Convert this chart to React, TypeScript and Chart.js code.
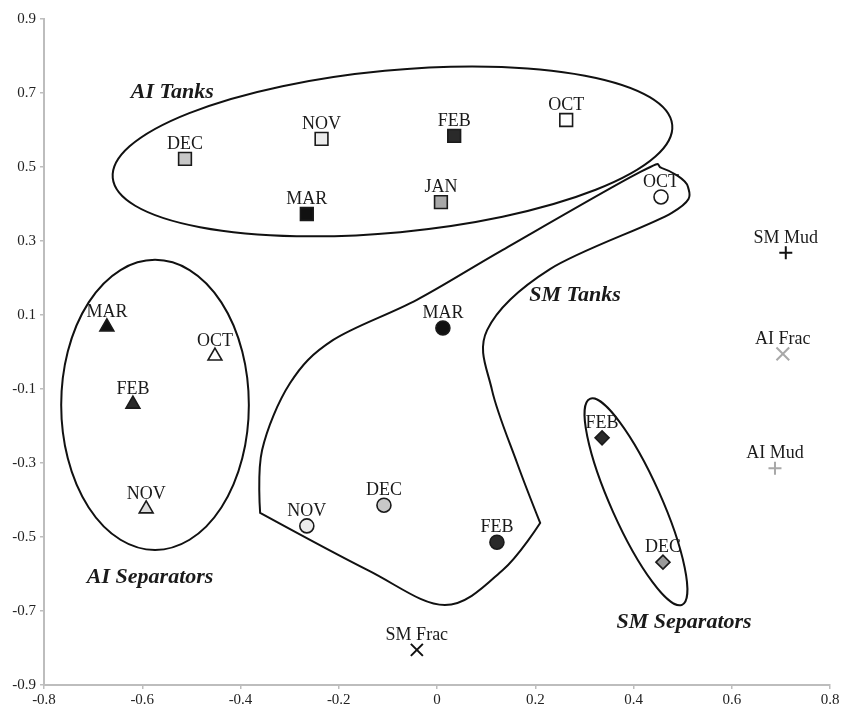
import React, { useEffect, useRef } from 'react';
import { Chart, registerables } from 'chart.js';

Chart.register(...registerables);

const FONT = '"Liberation Serif", "Times New Roman", "DejaVu Serif", serif';

const X_TICKS = [-0.8, -0.6, -0.4, -0.2, 0, 0.2, 0.4, 0.6, 0.8];
const Y_TICKS = [-0.9, -0.7, -0.5, -0.3, -0.1, 0.1, 0.3, 0.5, 0.7, 0.9];

// AI Tanks (squares)
const AI_TANKS_LABELS = ['DEC', 'NOV', 'FEB', 'OCT', 'MAR', 'JAN'];
const AI_TANKS_X = [-0.513, -0.235, 0.035, 0.263, -0.265, 0.008];
const AI_TANKS_Y = [0.522, 0.576, 0.584, 0.627, 0.373, 0.405];
const AI_TANKS_FILL = ['#c8c8c8', '#ececec', '#2a2a2a', '#ffffff', '#111111', '#a8a8a8'];

// SM Tanks (circles)
const SM_TANKS_LABELS = ['OCT', 'MAR', 'NOV', 'DEC', 'FEB'];
const SM_TANKS_X = [0.456, 0.012, -0.265, -0.108, 0.122];
const SM_TANKS_Y = [0.419, 0.065, -0.47, -0.414, -0.514];
const SM_TANKS_FILL = ['#ffffff', '#111111', '#ececec', '#c8c8c8', '#2a2a2a'];

// AI Separators (triangles)
const AI_SEP_LABELS = ['MAR', 'OCT', 'FEB', 'NOV'];
const AI_SEP_X = [-0.672, -0.452, -0.619, -0.592];
const AI_SEP_Y = [0.068, -0.011, -0.141, -0.424];
const AI_SEP_FILL = ['#111111', '#ffffff', '#2a2a2a', '#dcdcdc'];

// SM Separators (diamonds)
const SM_SEP_LABELS = ['FEB', 'DEC'];
const SM_SEP_X = [0.336, 0.46];
const SM_SEP_Y = [-0.232, -0.568];
const SM_SEP_FILL = ['#2a2a2a', '#9a9a9a'];

// Other samples
const SM_MUD = { label: 'SM Mud', x: 0.71, y: 0.268 };
const AI_FRAC = { label: 'AI Frac', x: 0.704, y: -0.005 };
const AI_MUD = { label: 'AI Mud', x: 0.688, y: -0.314 };
const SM_FRAC = { label: 'SM Frac', x: -0.041, y: -0.805 };

// Group annotations
const GROUP_NAMES = ['AI Tanks', 'SM Tanks', 'AI Separators', 'SM Separators'];
const GROUP_X = [-0.539, 0.281, -0.584, 0.503];
const GROUP_Y = [0.703, 0.154, -0.608, -0.73];

// Enclosing ellipses (centre, radii in axis units, rotation in degrees)
const ELLIPSE_CX = [-0.0906, -0.574, 0.405];
const ELLIPSE_CY = [0.542, -0.143, -0.405];
const ELLIPSE_RX = [0.572, 0.191, 0.2296];
const ELLIPSE_RY = [0.219, 0.392, 0.0676];
const ELLIPSE_ROT = [-5.4, 0, 65.9];

// SM Tanks outline (closed curve)
const OUTLINE_X = [0.458, 0.511, 0.478, 0.23, 0.102, 0.112, 0.163, 0.21, 0.134, 0.016, -0.142, -0.36, -0.356, -0.299, -0.212, -0.041, 0.134, 0.413];
const OUTLINE_Y = [0.497, 0.446, 0.376, 0.224, 0.059, -0.103, -0.3, -0.462, -0.589, -0.684, -0.589, -0.435, -0.265, -0.084, 0.032, 0.141, 0.276, 0.486];
const OUTLINE_CORNERS = [7, 11];

const zip = (xs: number[], ys: number[]) => xs.map((x, i) => ({ x, y: ys[i] }));

const shapesPlugin = {
  id: 'shapes',
  beforeDatasetsDraw(chart: any) {
    const { ctx, scales } = chart;
    const xs = scales.x;
    const ys = scales.y;
    const sx = Math.abs(xs.getPixelForValue(1) - xs.getPixelForValue(0));
    const sy = Math.abs(ys.getPixelForValue(1) - ys.getPixelForValue(0));
    ctx.save();
    ctx.strokeStyle = '#111';
    ctx.lineWidth = 2;
    for (let i = 0; i < ELLIPSE_CX.length; i++) {
      ctx.beginPath();
      ctx.ellipse(
        xs.getPixelForValue(ELLIPSE_CX[i]),
        ys.getPixelForValue(ELLIPSE_CY[i]),
        ELLIPSE_RX[i] * sx,
        ELLIPSE_RY[i] * sy,
        (ELLIPSE_ROT[i] * Math.PI) / 180,
        0,
        Math.PI * 2
      );
      ctx.stroke();
    }
    const pts = OUTLINE_X.map((x, i) => ({ x: xs.getPixelForValue(x), y: ys.getPixelForValue(OUTLINE_Y[i]) }));
    const n = pts.length;
    const t = 1 / 6;
    ctx.beginPath();
    ctx.moveTo(pts[0].x, pts[0].y);
    for (let i = 0; i < n; i++) {
      const p0 = pts[(i - 1 + n) % n];
      const p1 = pts[i];
      const p2 = pts[(i + 1) % n];
      const p3 = pts[(i + 2) % n];
      const c1 = OUTLINE_CORNERS.includes(i) ? p1 : { x: p1.x + (p2.x - p0.x) * t, y: p1.y + (p2.y - p0.y) * t };
      const c2 = OUTLINE_CORNERS.includes((i + 1) % n) ? p2 : { x: p2.x - (p3.x - p1.x) * t, y: p2.y - (p3.y - p1.y) * t };
      ctx.bezierCurveTo(c1.x, c1.y, c2.x, c2.y, p2.x, p2.y);
    }
    ctx.closePath();
    ctx.stroke();
    ctx.restore();
  },
  afterDatasetsDraw(chart: any) {
    const { ctx, scales } = chart;
    ctx.save();
    ctx.fillStyle = '#1a1a1a';
    ctx.textAlign = 'center';
    ctx.textBaseline = 'alphabetic';
    ctx.font = `18px ${FONT}`;
    chart.data.datasets.forEach((ds: any, di: number) => {
      const meta = chart.getDatasetMeta(di);
      meta.data.forEach((el: any, i: number) => {
        const lbl = ds.pointLabels ? ds.pointLabels[i] : null;
        if (lbl) ctx.fillText(lbl, el.x, el.y - 10);
      });
    });
    ctx.font = `italic bold 22px ${FONT}`;
    ctx.textBaseline = 'middle';
    GROUP_NAMES.forEach((g, i) => {
      ctx.fillText(g, scales.x.getPixelForValue(GROUP_X[i]), scales.y.getPixelForValue(GROUP_Y[i]));
    });
    ctx.restore();
  },
};

const fmt = (v: number) => (Math.abs(v) < 1e-9 ? '0' : Number(v).toFixed(1));

export default function App() {
  const ref = useRef<HTMLCanvasElement | null>(null);
  useEffect(() => {
    if (!ref.current) return;
    const marker = (label: string, style: string, r: number, xs: number[], ys: number[], fills: string[], labels: string[]) => ({
      label,
      data: zip(xs, ys),
      pointStyle: style,
      pointRadius: r,
      pointHoverRadius: r,
      pointBackgroundColor: fills,
      pointBorderColor: '#1a1a1a',
      pointBorderWidth: 1.6,
      showLine: false,
      pointLabels: labels,
    });
    const single = (p: any, style: string, r: number, color: string) => ({
      label: p.label,
      data: [{ x: p.x, y: p.y }],
      pointStyle: style,
      pointRadius: r,
      pointHoverRadius: r,
      pointBackgroundColor: color,
      pointBorderColor: color,
      pointBorderWidth: 2,
      showLine: false,
      pointLabels: [p.label],
    });
    const chart = new Chart(ref.current, {
      type: 'scatter',
      data: {
        datasets: [
          marker('AI Tanks', 'rect', 9, AI_TANKS_X, AI_TANKS_Y, AI_TANKS_FILL, AI_TANKS_LABELS),
          marker('SM Tanks', 'circle', 7, SM_TANKS_X, SM_TANKS_Y, SM_TANKS_FILL, SM_TANKS_LABELS),
          marker('AI Separators', 'triangle', 8, AI_SEP_X, AI_SEP_Y, AI_SEP_FILL, AI_SEP_LABELS),
          marker('SM Separators', 'rectRot', 7, SM_SEP_X, SM_SEP_Y, SM_SEP_FILL, SM_SEP_LABELS),
          single(SM_MUD, 'cross', 6.5, '#111111'),
          single(AI_FRAC, 'crossRot', 9, '#a8a8a8'),
          single(AI_MUD, 'cross', 6.5, '#a8a8a8'),
          single(SM_FRAC, 'crossRot', 8.5, '#111111'),
        ] as any,
      },
      options: {
        animation: false,
        responsive: false,
        devicePixelRatio: 1,
        layout: { padding: { top: 19, right: 26, left: 0, bottom: 0 } },
        plugins: { legend: { display: false }, tooltip: { enabled: false }, title: { display: false } },
        scales: {
          x: {
            type: 'linear',
            min: -0.8,
            max: 0.8,
            afterBuildTicks: (s: any) => {
              s.ticks = X_TICKS.map((v) => ({ value: v }));
            },
            afterFit: (s: any) => {
              s.height = 25;
            },
            grid: { drawOnChartArea: false, drawTicks: true, tickLength: 4, color: '#bdbdbd', lineWidth: 1.5 },
            border: { display: true, color: '#bdbdbd', width: 2 },
            ticks: { font: { family: FONT, size: 15 }, color: '#222', padding: 2, autoSkip: false, maxRotation: 0, callback: (v: any) => fmt(Number(v)) },
          },
          y: {
            type: 'linear',
            min: -0.9,
            max: 0.9,
            afterBuildTicks: (s: any) => {
              s.ticks = Y_TICKS.map((v) => ({ value: v }));
            },
            afterFit: (s: any) => {
              s.width = 44;
            },
            grid: { drawOnChartArea: false, drawTicks: true, tickLength: 4, color: '#bdbdbd', lineWidth: 1.5 },
            border: { display: true, color: '#bdbdbd', width: 2 },
            ticks: { font: { family: FONT, size: 15 }, color: '#222', padding: 4, autoSkip: false, callback: (v: any) => fmt(Number(v)) },
          },
        },
      } as any,
      plugins: [shapesPlugin],
    });
    return () => chart.destroy();
  }, []);
  return (
    <div style={{ position: 'absolute', left: 0, top: 0, width: 856, height: 710, background: '#fff' }}>
      <canvas ref={ref} width={856} height={710} style={{ width: 856, height: 710, display: 'block' }} />
    </div>
  );
}
